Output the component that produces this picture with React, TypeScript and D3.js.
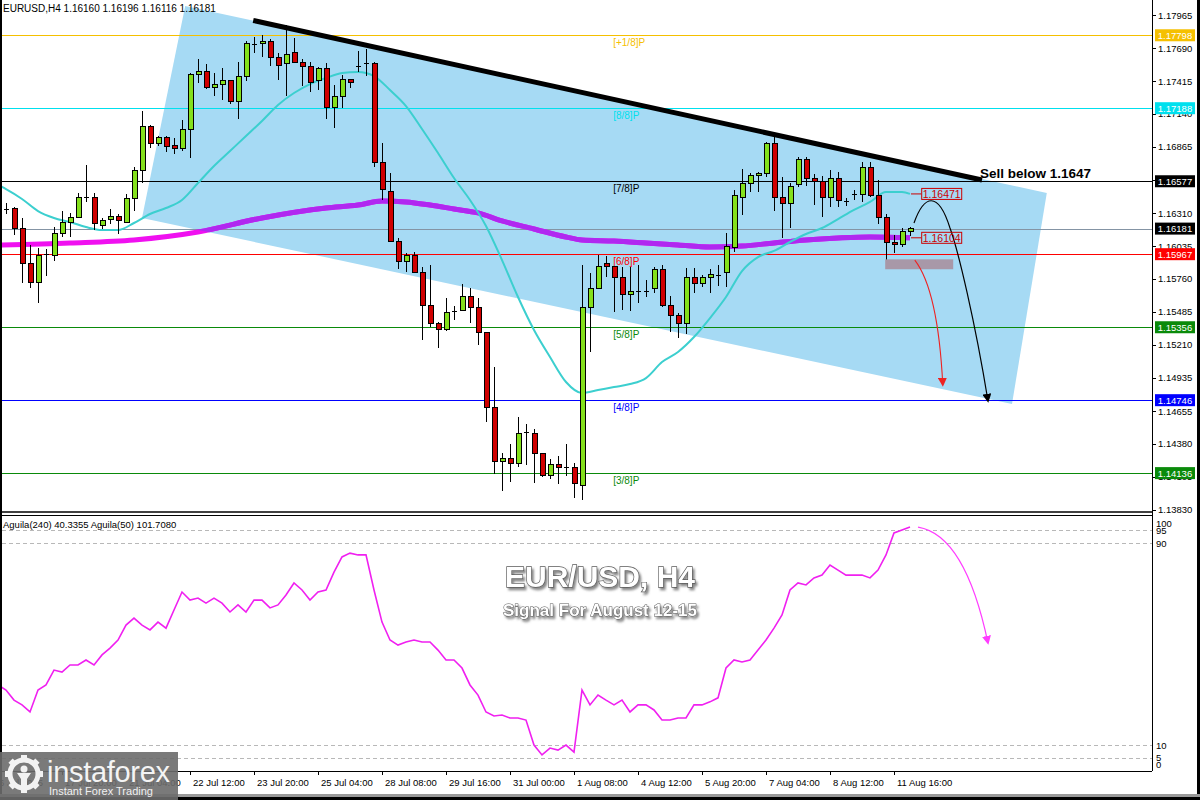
import React from 'react';
import * as d3 from 'd3';

// ---------------- DATA ----------------
const symbolHeader = 'EURUSD,H4  1.16160 1.16196 1.16116 1.16181';
const indicatorHeader = 'Aguila(240) 40.3355  Aguila(50) 101.7080';

const opens = [1.16343,1.16345,1.16186,1.15893,1.15734,1.15960,1.15960,1.16144,1.16236,1.16278,1.16437,1.16445,1.16211,1.16261,1.16286,1.16236,1.16429,1.16663,1.17031,1.16889,1.16947,1.16872,1.16855,1.17014,1.17474,1.17499,1.17365,1.17390,1.17416,1.17248,1.17457,1.17725,1.17725,1.17750,1.17616,1.17558,1.17650,1.17574,1.17533,1.17416,1.17524,1.17198,1.17282,1.17432,1.17541,1.17558,1.17566,1.16738,1.16495,1.16077,1.15910,1.15960,1.15818,1.15534,1.15391,1.15333,1.15492,1.15500,1.15609,1.15525,1.15308,1.14681,1.14229,1.14262,1.14220,1.14480,1.14471,1.14296,1.14112,1.14212,1.14179,1.14179,1.14036,1.15525,1.15684,1.15885,1.15860,1.15776,1.15634,1.15659,1.15659,1.15676,1.15835,1.15542,1.15458,1.15391,1.15776,1.15718,1.15776,1.15793,1.15810,1.16027,1.16445,1.16562,1.16621,1.16646,1.16889,1.16437,1.16395,1.16546,1.16763,1.16596,1.16579,1.16437,1.16596,1.16412,1.16470,1.16470,1.16696,1.16462,1.16278,1.16061,1.16044,1.16160];
const highs = [1.16395,1.16362,1.16270,1.16044,1.16019,1.16010,1.16194,1.16328,1.16312,1.16479,1.16713,1.16479,1.16270,1.16345,1.16303,1.16470,1.16696,1.17165,1.17048,1.16956,1.16956,1.16939,1.17089,1.17482,1.17600,1.17558,1.17482,1.17524,1.17418,1.17574,1.17750,1.17784,1.17800,1.17767,1.17650,1.17884,1.17775,1.17600,1.17574,1.17533,1.17566,1.17382,1.17466,1.17436,1.17666,1.17683,1.17574,1.16897,1.16646,1.16102,1.15977,1.15985,1.15860,1.15877,1.15400,1.15601,1.15534,1.15718,1.15684,1.15601,1.15316,1.15023,1.14304,1.14379,1.14605,1.14547,1.14505,1.14304,1.14254,1.14279,1.14379,1.14220,1.15877,1.15810,1.15960,1.15952,1.15868,1.15860,1.15860,1.15877,1.15751,1.15860,1.15877,1.15617,1.15475,1.15851,1.15851,1.15793,1.15843,1.15877,1.16144,1.16504,1.16679,1.16646,1.16654,1.16905,1.16947,1.16613,1.16562,1.16780,1.16780,1.16638,1.16621,1.16671,1.16654,1.16437,1.16504,1.16738,1.16738,1.16588,1.16303,1.16128,1.16186,1.16196];
const lows = [1.16303,1.16128,1.15726,1.15684,1.15559,1.15785,1.15910,1.16111,1.16111,1.16270,1.16404,1.16169,1.16178,1.16220,1.16136,1.16228,1.16328,1.16562,1.16855,1.16872,1.16822,1.16805,1.16830,1.16771,1.17399,1.17349,1.17290,1.17257,1.17223,1.17098,1.17416,1.17650,1.17616,1.17541,1.17424,1.17290,1.17566,1.17374,1.17324,1.17340,1.17098,1.17022,1.17190,1.17357,1.17491,1.17457,1.16696,1.16420,1.16069,1.15843,1.15818,1.15810,1.15249,1.15358,1.15182,1.15325,1.15417,1.15492,1.15391,1.15207,1.14563,1.14129,1.13986,1.14062,1.14187,1.14204,1.14053,1.14103,1.14087,1.14045,1.14112,1.13928,1.13911,1.15149,1.15676,1.15776,1.15483,1.15500,1.15492,1.15559,1.15609,1.15642,1.15525,1.15316,1.15266,1.15299,1.15642,1.15692,1.15642,1.15701,1.15692,1.15985,1.16295,1.16487,1.16487,1.16613,1.16328,1.16102,1.16186,1.16529,1.16537,1.16378,1.16278,1.16362,1.16362,1.16370,1.16420,1.16404,1.16445,1.16220,1.15893,1.15977,1.16027,1.16116];
const closes = [1.16347,1.16178,1.15893,1.15734,1.15960,1.15969,1.16144,1.16236,1.16278,1.16437,1.16445,1.16220,1.16245,1.16286,1.16245,1.16429,1.16663,1.17039,1.16889,1.16947,1.16864,1.16847,1.17014,1.17474,1.17499,1.17357,1.17390,1.17416,1.17240,1.17449,1.17725,1.17721,1.17750,1.17608,1.17541,1.17641,1.17574,1.17533,1.17407,1.17524,1.17198,1.17282,1.17432,1.17399,1.17545,1.17562,1.16738,1.16504,1.16077,1.15902,1.15952,1.15818,1.15534,1.15391,1.15333,1.15483,1.15496,1.15609,1.15525,1.15308,1.14681,1.14229,1.14262,1.14220,1.14471,1.14476,1.14296,1.14112,1.14212,1.14179,1.14183,1.14045,1.15525,1.15684,1.15860,1.15860,1.15776,1.15626,1.15651,1.15663,1.15663,1.15843,1.15542,1.15458,1.15391,1.15776,1.15718,1.15776,1.15793,1.15797,1.16035,1.16462,1.16562,1.16621,1.16646,1.16889,1.16437,1.16395,1.16537,1.16763,1.16596,1.16579,1.16437,1.16596,1.16420,1.16416,1.16474,1.16696,1.16462,1.16278,1.16061,1.16044,1.16153,1.16181];

// fast moving average (cyan): [bar, price]
const fastMA: [number, number][] = [[-1,1.16546],[0,1.16512],[2,1.16429],[4,1.16328],[6,1.16270],[8,1.16236],[10,1.16194],[12,1.16169],[14,1.16169],[16,1.16228],[18,1.16303],[20,1.16353],[22,1.16420],[24,1.16562],[26,1.16705],[28,1.16830],[30,1.16955],[32,1.17081],[34,1.17215],[36,1.17315],[38,1.17390],[40,1.17441],[42,1.17482],[44,1.17491],[46,1.17457],[48,1.17340],[50,1.17206],[52,1.17014],[54,1.16813],[56,1.16604],[58,1.16420],[60,1.16203],[62,1.15918],[64,1.15609],[66,1.15333],[68,1.15107],[70,1.14898],[72,1.14806],[74,1.14831],[76,1.14856],[78,1.14881],[80,1.14931],[82,1.15065],[84,1.15149],[86,1.15274],[88,1.15433],[90,1.15609],[92,1.15826],[94,1.15943],[96,1.15994],[98,1.16069],[100,1.16136],[102,1.16186],[104,1.16261],[106,1.16337],[108,1.16404],[110,1.16487],[112,1.16487],[113,1.16471]];
// slow moving average (magenta): [bar, price]
const slowMA: [number, number][] = [[-1,1.16044],[8,1.16061],[16,1.16086],[24,1.16153],[32,1.16270],[40,1.16353],[44,1.16378],[47,1.16412],[50,1.16404],[53,1.16378],[56,1.16345],[59,1.16312],[62,1.16245],[66,1.16178],[70,1.16111],[72,1.16086],[76,1.16077],[80,1.16061],[84,1.16044],[88,1.16027],[92,1.16035],[96,1.16061],[100,1.16086],[104,1.16102],[108,1.16111],[113,1.16104]];
const fastLast = 1.16471;
const slowLast = 1.16104;

// oscillator, first value at bar -1
const oscStartBar = -1;
const oscValues = [33.8,31.8,27.8,25.9,23.1,31.8,33.8,39.7,38.9,41.7,41.7,43.7,41.7,45.7,48.4,51.6,57.5,60.3,57.5,55.6,58.7,56.3,63.5,70.6,67.4,68.2,66.2,68.2,66.2,62.7,65.5,62.7,67.4,67.4,64.3,65.5,69.4,74.2,71.4,67.4,70.6,71.4,78.5,84.5,86.0,85.3,85.3,71.4,58.7,51.6,49.6,50.8,51.6,50.8,50.8,47.6,43.7,43.7,40.5,33.8,29.8,23.1,21.5,21.9,20.7,20.7,19.9,10.0,6.1,8.8,8.0,10.0,7.2,31.8,25.9,29.8,27.8,25.9,27.8,23.1,25.9,25.9,23.9,19.9,19.9,20.7,20.7,25.9,25.9,27.1,28.7,40.5,43.7,42.9,43.7,47.6,51.6,56.3,61.5,71.4,74.2,73.4,76.2,77.3,81.3,79.3,77.3,77.3,77.3,76.2,79.3,85.3,94.0,95.2,96.4];
const oscLevels = [95, 90, 10, 5];
const oscAxisLabels = [100, 95, 90, 10, 5, 0];

// Murrey math levels
const murreyPrices = [1.17798, 1.17188, 1.16577, 1.15967, 1.15356, 1.14746, 1.14136];
const murreyNames = ['[+1/8]P', '[8/8]P', '[7/8]P', '[6/8]P', '[5/8]P', '[4/8]P', '[3/8]P'];
const currentPrice = 1.16181;

// price axis ticks
const priceTicks = [1.17965,1.17690,1.17415,1.17140,1.16865,1.16590,1.16310,1.16035,1.15760,1.15485,1.15210,1.14935,1.14655,1.14380,1.14105,1.13830];

// time axis ticks
const timeTickBars = [-1.9, 7, 15, 23, 31, 39, 47, 55, 63, 71, 79, 87, 95, 103, 111];
const timeTickLabels = ['16 Jul 2025','17 Jul 20:00','21 Jul 04:00','22 Jul 12:00','23 Jul 20:00','25 Jul 04:00','28 Jul 08:00','29 Jul 16:00','31 Jul 00:00','1 Aug 08:00','4 Aug 12:00','5 Aug 20:00','7 Aug 04:00','8 Aug 12:00','11 Aug 16:00'];

// annotations (bar, price)
const channelBars = [22.4, 130.1, 125.75, 17];
const channelPrices = [1.18043, 1.16479, 1.14714, 1.16270];
const trendBars = [30.9, 122];
const trendPrices = [1.17922, 1.16587];
const sellText = 'Sell below 1.1647';
const zoneBars = [109.9, 118.4];
const zonePrices = [1.15924, 1.15841];
const redArrowBars = [113.6, 116.5, 117.1];
const redArrowPrices = [1.15918, 1.15667, 1.14873];
const blackArrowBars = [113.5, 114.75, 116.5, 118, 119.0, 121.1, 122.75];
const blackArrowPrices = [1.16228, 1.16462, 1.16504, 1.16186, 1.16002, 1.15416, 1.14739];
const oscArrowBars = [114, 119.9, 122.75];
const oscArrowValues = [96.3, 93.2, 50.4];
const titleText = 'EUR/USD, H4';
const subtitleText = 'Signal For August 12-15';
const logoText = 'instaforex';
const logoTagline = 'Instant Forex Trading';

// ---------------- STYLE ----------------
const murreyColors = ['#f5c000', '#00e0ee', '#000000', '#ff0000', '#0a8a0a', '#0000ff', '#0a8a0a'];
const bull = '#84e01c';
const bear = '#d00000';
const FONT = "'Liberation Sans', Arial, sans-serif";

export default function App() {
  const x = d3.scaleLinear().domain([0, 113]).range([6, 910]);
  const y = d3.scaleLinear().domain([1.1383, 1.17965]).range([509.7, 15.3]);
  const yi = d3.scaleLinear().domain([0, 100]).range([770.3, 517.8]);

  const L = 2, R = 1152, mainBottom = 512, indTop = 517, indBottom = 771;

  const maLine = d3.line<[number, number]>().x(d => x(d[0])).y(d => y(d[1])).curve(d3.curveMonotoneX);
  const oscLine = d3.line<number>().x((_, i) => x(oscStartBar + i)).y(d => yi(d)).curve(d3.curveLinear);

  const channelPath = 'M' + channelBars.map((b, i) => `${x(b)},${y(channelPrices[i])}`).join('L') + 'Z';

  const p = (b: number, v: number) => `${x(b)},${y(v)}`;
  const redArrowPath = `M${p(redArrowBars[0], redArrowPrices[0])} Q${p(redArrowBars[1], redArrowPrices[1])} ${p(redArrowBars[2], redArrowPrices[2])}`;
  const bA = blackArrowBars.map((b, i) => p(b, blackArrowPrices[i]));
  const blackArrowPath = `M${bA[0]} C${bA[1]} ${bA[2]} ${bA[3]} C${bA[4]} ${bA[5]} ${bA[6]}`;
  const oA = oscArrowBars.map((b, i) => `${x(b)},${yi(oscArrowValues[i])}`);
  const oscArrowPath = `M${oA[0]} Q${oA[1]} ${oA[2]}`;

  const boxX0 = x(114.4), boxX1 = x(119.4);
  const lastX = x(113);

  return (
    <svg width={1200} height={800} style={{ position: 'fixed', left: 0, top: 0, background: '#fff' }} fontFamily={FONT}>
      <defs>
        <clipPath id="mainClip"><rect x={L} y={0} width={R - L} height={mainBottom} /></clipPath>
        <clipPath id="indClip"><rect x={L} y={indTop} width={R - L} height={indBottom - indTop} /></clipPath>
        <clipPath id="chanClip"><path d={channelPath} /></clipPath>
        <filter id="shadow" x="-10%" y="-30%" width="120%" height="160%">
          <feDropShadow dx="2" dy="2.5" stdDeviation="1.3" floodColor="#6a6a6a" floodOpacity="0.8" />
        </filter>
        <marker id="arrRed" viewBox="0 0 10 10" refX="8" refY="5" markerWidth="9" markerHeight="9" orient="auto" markerUnits="userSpaceOnUse">
          <path d="M0,0 L10,5 L0,10 Z" fill="#ee2222" />
        </marker>
        <marker id="arrBlack" viewBox="0 0 10 10" refX="8" refY="5" markerWidth="9" markerHeight="9" orient="auto" markerUnits="userSpaceOnUse">
          <path d="M0,0 L10,5 L0,10 Z" fill="#000" />
        </marker>
        <marker id="arrPink" viewBox="0 0 10 10" refX="8" refY="5" markerWidth="9" markerHeight="9" orient="auto" markerUnits="userSpaceOnUse">
          <path d="M0,0 L10,5 L0,10 Z" fill="#ff3cff" />
        </marker>
      </defs>

      <rect x={0} y={0} width={1200} height={800} fill="#fff" />

      {/* main panel */}
      <g clipPath="url(#mainClip)">
        <path d={channelPath} fill="#a6daf4" />
        {murreyPrices.map((v, i) => (
          <line key={'m' + i} x1={L} x2={R} y1={Math.round(y(v)) + 0.5} y2={Math.round(y(v)) + 0.5} stroke={murreyColors[i]} strokeWidth={1} />
        ))}
        <line x1={L} x2={R} y1={Math.round(y(currentPrice)) + 0.5} y2={Math.round(y(currentPrice)) + 0.5} stroke="#8494a4" strokeWidth={1} />
        {murreyNames.map((n, i) => (
          <text key={'mn' + i} x={x(75.9)} y={y(murreyPrices[i]) + 11} fontSize={10} fill={murreyColors[i]}>{n}</text>
        ))}
        {/* moving averages */}
        <path d={maLine(slowMA) || ''} fill="none" stroke="#f010f0" strokeWidth={5} />
        <g clipPath="url(#chanClip)">
          <path d={maLine(slowMA) || ''} fill="none" stroke="#b028f0" strokeWidth={5} />
        </g>
        <path d={maLine(fastMA) || ''} fill="none" stroke="#3ccfcf" strokeWidth={2} />
        {/* candles */}
        <g shapeRendering="crispEdges">
          {opens.map((o, i) => {
            const c = closes[i];
            const cx = Math.round(x(i));
            const top = y(Math.max(o, c));
            const bot = y(Math.min(o, c));
            const doji = bot - top < 1.5;
            return (
              <g key={'c' + i}>
                <line x1={cx + 0.5} x2={cx + 0.5} y1={y(highs[i])} y2={y(lows[i])} stroke="#000" strokeWidth={1} />
                {doji ? (
                  <line x1={cx - 2} x2={cx + 3} y1={Math.round(top) + 0.5} y2={Math.round(top) + 0.5} stroke="#000" strokeWidth={1} />
                ) : (
                  <rect x={cx - 2} y={top} width={5} height={bot - top} fill={c >= o ? bull : bear} stroke="#000" strokeWidth={1} />
                )}
              </g>
            );
          })}
        </g>
        {/* trend line */}
        <line x1={x(trendBars[0])} y1={y(trendPrices[0])} x2={x(trendBars[1])} y2={y(trendPrices[1])} stroke="#000" strokeWidth={5} />
        <text x={x(121.75)} y={y(1.16604)} fontSize={13.5} fontWeight="bold" fill="#000">{sellText}</text>
        {/* zone */}
        <rect x={x(zoneBars[0])} y={y(zonePrices[0])} width={x(zoneBars[1]) - x(zoneBars[0])} height={y(zonePrices[1]) - y(zonePrices[0])} fill="#a898a8" />
        {/* arrows */}
        <path d={redArrowPath} fill="none" stroke="#ee2222" strokeWidth={1.1} markerEnd="url(#arrRed)" />
        <path d={blackArrowPath} fill="none" stroke="#000" strokeWidth={1.2} markerEnd="url(#arrBlack)" />
        {/* MA value boxes */}
        {[fastLast, slowLast].map((v, i) => (
          <g key={'bx' + i}>
            <line x1={lastX + 1} x2={boxX0} y1={y(v)} y2={y(v)} stroke="#cc0000" strokeWidth={1} />
            <rect x={boxX0 + 0.5} y={y(v) - 5.5} width={boxX1 - boxX0} height={11} fill="none" stroke="#cc0000" strokeWidth={1} />
            <text x={(boxX0 + boxX1) / 2 + 0.5} y={y(v) + 4} fontSize={10.5} fill="#cc0000" textAnchor="middle">{v.toFixed(5)}</text>
          </g>
        ))}
      </g>
      <text x={3} y={12} fontSize={10} fill="#000">{symbolHeader}</text>

      {/* price axis */}
      <line x1={R + 0.5} x2={R + 0.5} y1={0} y2={indBottom} stroke="#000" strokeWidth={1} />
      {priceTicks.map((v, i) => (
        <g key={'pt' + i}>
          <line x1={R} x2={R + 4} y1={Math.round(y(v)) + 0.5} y2={Math.round(y(v)) + 0.5} stroke="#000" />
          <text x={R + 6} y={y(v) + 3.5} fontSize={9.5} fill="#000">{v.toFixed(5)}</text>
        </g>
      ))}
      {[...murreyPrices, currentPrice].map((v, i) => {
        const col = i < murreyPrices.length ? murreyColors[i] : '#000';
        return (
          <g key={'pb' + i}>
            <rect x={R + 3} y={y(v) - 6} width={40} height={12} fill={col} />
            <text x={R + 23} y={y(v) + 3.5} fontSize={9.5} fill="#fff" textAnchor="middle">{v.toFixed(5)}</text>
          </g>
        );
      })}

      {/* panel borders */}
      <line x1={L} x2={R} y1={mainBottom} y2={mainBottom} stroke="#000" strokeWidth={1.6} />
      <line x1={L} x2={R} y1={indTop - 1.5} y2={indTop - 1.5} stroke="#000" strokeWidth={1} />

      {/* indicator */}
      <g clipPath="url(#indClip)">
        {oscLevels.map((v, i) => (
          <line key={'ol' + i} x1={L} x2={R} y1={Math.round(yi(v)) + 0.5} y2={Math.round(yi(v)) + 0.5} stroke="#b8b8b8" strokeDasharray="4,3" />
        ))}
        <path d={oscLine(oscValues) || ''} fill="none" stroke="#f020f0" strokeWidth={1.6} />
        <path d={oscArrowPath} fill="none" stroke="#ff3cff" strokeWidth={1.2} markerEnd="url(#arrPink)" />
      </g>
      <text x={3} y={528} fontSize={9.5} fill="#000">{indicatorHeader}</text>
      {oscAxisLabels.map((v, i) => (
        <text key={'oa' + i} x={R + 4} y={Math.min(Math.max(yi(v), indTop + 6), indBottom - 7) + 3.5} fontSize={9.5} fill="#000">{v}</text>
      ))}

      <g filter="url(#shadow)">
        <text x={600} y={587} fontSize={30} fontWeight="bold" textAnchor="middle" fill="#fff" stroke="#5a5a5a" strokeWidth={1.3} paintOrder="stroke">{titleText}</text>
        <text x={600} y={616} fontSize={17} fontWeight="bold" textAnchor="middle" fill="#fff" stroke="#5a5a5a" strokeWidth={1} paintOrder="stroke">{subtitleText}</text>
      </g>

      {/* time axis */}
      <line x1={L} x2={R} y1={indBottom + 0.5} y2={indBottom + 0.5} stroke="#000" />
      {timeTickBars.map((b, i) => (
        <g key={'tt' + i}>
          <line x1={Math.round(x(b)) + 0.5} x2={Math.round(x(b)) + 0.5} y1={indBottom} y2={indBottom + 4} stroke="#000" />
          <text x={x(b) + 3} y={786} fontSize={9.5} fill="#000">{timeTickLabels[i]}</text>
        </g>
      ))}

      {/* frame */}
      <rect x={0} y={0} width={2} height={800} fill="#000" />
      <rect x={1197} y={0} width={3} height={800} fill="#000" />
      <rect x={0} y={794} width={1200} height={3} fill="#9a9a9a" />
      <rect x={0} y={797} width={1200} height={3} fill="#000" />

      {/* logo */}
      <g>
        <rect x={0} y={752} width={178} height={48} fill="#6c6c6c" opacity={0.9} />
        <g transform="translate(24,774)" fill="#f2f2f2">
          {d3.range(8).map(k => (
            <rect key={'t' + k} x={-3} y={-19} width={6} height={7} transform={`rotate(${k * 45})`} />
          ))}
          <circle r={14} fill="none" stroke="#f2f2f2" strokeWidth={5} />
          <circle cx={0} cy={-5} r={3.5} />
          <path d="M-7,-1 L7,-1 L3,5 L3,14 L-3,14 L-3,5 Z" />
        </g>
        <text x={47} y={782} fontSize={29} fill="#f4f4f4" letterSpacing={-0.3}>{logoText}</text>
        <text x={49} y={795} fontSize={11} fill="#f0f0f0">{logoTagline}</text>
      </g>
    </svg>
  );
}
